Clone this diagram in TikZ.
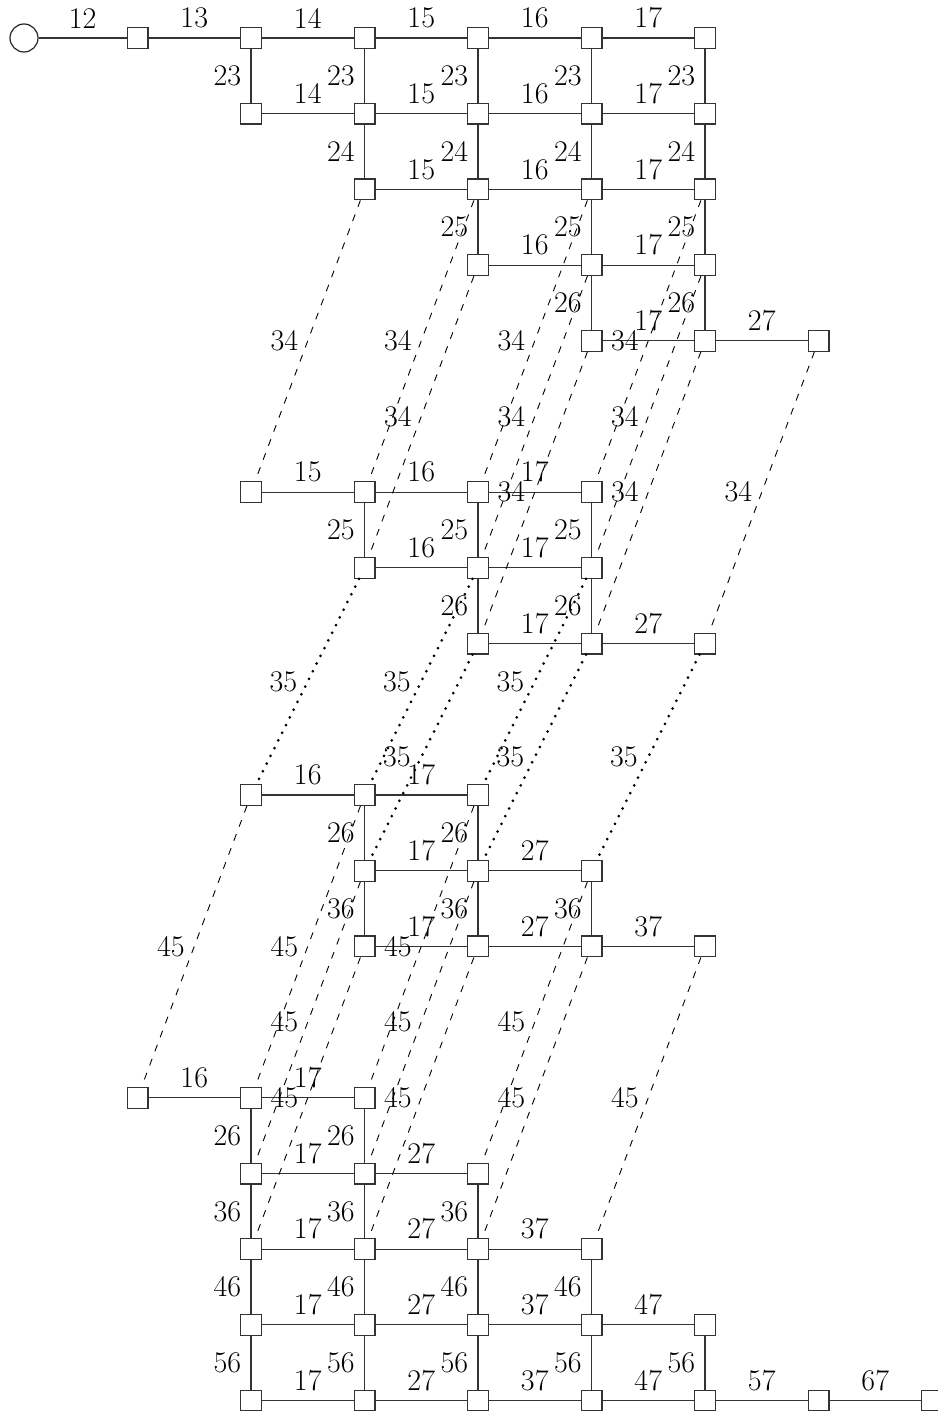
\documentclass[tikz,border=0pt]{standalone}
\begin{document}
\begin{tikzpicture}[x=56.75pt,y=-37.85pt,
  box/.style={draw=black!80, line width=0.6pt, minimum size=10.4pt, inner sep=0pt},
  root/.style={circle, draw=black!85, line width=0.6pt, minimum size=14pt, inner sep=0pt},
  edge/.style={draw=black!80, line width=0.55pt},
  dsh/.style={draw=black, line width=0.45pt, dash pattern=on 3.5pt off 4pt},
  dotl/.style={draw=black, line width=1.5pt, line cap=round, dash pattern=on 0pt off 4.3pt},
  lab/.style={font=\fontsize{15}{18}\selectfont, inner sep=4.6pt}]
\useasboundingbox (-0.21145,-0.50198) rectangle (8.04405,18.13738);
% nodes
\node[root] (n0-0) at (0,0) {};
\foreach \c in {1,...,6} \node[box] (n\c-0) at (\c,0) {};
\foreach \c in {2,...,6} \node[box] (n\c-1) at (\c,1) {};
\foreach \c in {3,...,6} \node[box] (n\c-2) at (\c,2) {};
\foreach \c in {4,...,6} \node[box] (n\c-3) at (\c,3) {};
\foreach \c in {5,...,7} \node[box] (n\c-4) at (\c,4) {};
\foreach \c in {2,...,5} \node[box] (n\c-6) at (\c,6) {};
\foreach \c in {3,...,5} \node[box] (n\c-7) at (\c,7) {};
\foreach \c in {4,...,6} \node[box] (n\c-8) at (\c,8) {};
\foreach \c in {2,...,4} \node[box] (n\c-10) at (\c,10) {};
\foreach \c in {3,...,5} \node[box] (n\c-11) at (\c,11) {};
\foreach \c in {3,...,6} \node[box] (n\c-12) at (\c,12) {};
\foreach \c in {1,...,3} \node[box] (n\c-14) at (\c,14) {};
\foreach \c in {2,...,4} \node[box] (n\c-15) at (\c,15) {};
\foreach \c in {2,...,5} \node[box] (n\c-16) at (\c,16) {};
\foreach \c in {2,...,6} \node[box] (n\c-17) at (\c,17) {};
\foreach \c in {2,...,8} \node[box] (n\c-18) at (\c,18) {};
% horizontal edges
\foreach \c/\r/\l [evaluate=\c as \d using int(\c+1)] in {
  0/0/12,1/0/13,2/0/14,3/0/15,4/0/16,5/0/17,
  2/1/14,3/1/15,4/1/16,5/1/17,
  3/2/15,4/2/16,5/2/17,
  4/3/16,5/3/17,
  5/4/17,6/4/27,
  2/6/15,3/6/16,4/6/17,
  3/7/16,4/7/17,
  4/8/17,5/8/27,
  2/10/16,3/10/17,
  3/11/17,4/11/27,
  3/12/17,4/12/27,5/12/37,
  1/14/16,2/14/17,
  2/15/17,3/15/27,
  2/16/17,3/16/27,4/16/37,
  2/17/17,3/17/27,4/17/37,5/17/47,
  2/18/17,3/18/27,4/18/37,5/18/47,6/18/57,7/18/67}
  \draw[edge] (n\c-\r) -- node[lab,above]{\l} (n\d-\r);
% vertical edges
\foreach \c/\r/\l [evaluate=\r as \s using int(\r+1)] in {
  2/0/23,3/0/23,4/0/23,5/0/23,6/0/23,
  3/1/24,4/1/24,5/1/24,6/1/24,
  4/2/25,5/2/25,6/2/25,
  5/3/26,6/3/26,
  3/6/25,4/6/25,5/6/25,
  4/7/26,5/7/26,
  3/10/26,4/10/26,
  3/11/36,4/11/36,5/11/36,
  2/14/26,3/14/26,
  2/15/36,3/15/36,4/15/36,
  2/16/46,3/16/46,4/16/46,5/16/46,
  2/17/56,3/17/56,4/17/56,5/17/56,6/17/56}
  \draw[edge] (n\c-\r) -- node[lab,left]{\l} (n\c-\s);
% dashed 34
\foreach \c/\r [evaluate=\c as \d using int(\c-1), evaluate=\r as \s using int(\r+4)] in {
  3/2,4/2,5/2,6/2,4/3,5/3,6/3,5/4,6/4,7/4}
  \draw[dsh] (n\c-\r) -- node[lab,left]{34} (n\d-\s);
% dotted 35
\foreach \c/\r [evaluate=\c as \d using int(\c-1), evaluate=\r as \s using int(\r+3)] in {
  3/7,4/7,5/7,4/8,5/8,6/8}
  \draw[dotl] (n\c-\r) -- node[lab,left]{35} (n\d-\s);
% dashed 45
\foreach \c/\r [evaluate=\c as \d using int(\c-1), evaluate=\r as \s using int(\r+4)] in {
  2/10,3/10,4/10,3/11,4/11,5/11,3/12,4/12,5/12,6/12}
  \draw[dsh] (n\c-\r) -- node[lab,left]{45} (n\d-\s);
\end{tikzpicture}
\end{document}
